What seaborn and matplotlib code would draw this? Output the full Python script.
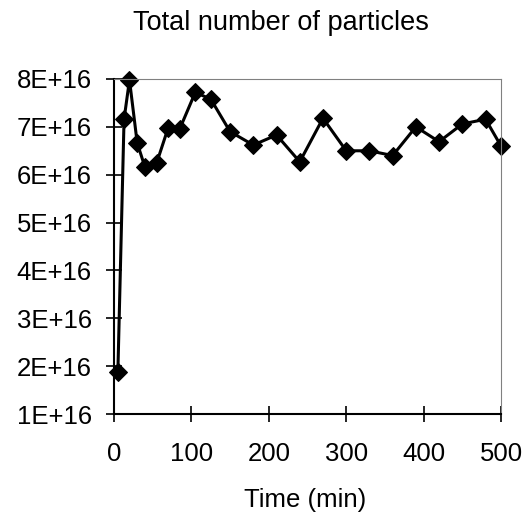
import seaborn as sns
import pandas as pd
import numpy as np
import matplotlib.pyplot as plt

# values
time_min = [5, 13, 20, 30, 40, 55, 70, 85, 105, 125, 150, 180, 210, 240,
            270, 300, 330, 360, 390, 420, 450, 480, 500]
particles = [1.88e16, 7.16e16, 7.98e16, 6.66e16, 6.16e16, 6.24e16, 6.98e16,
             6.96e16, 7.72e16, 7.58e16, 6.90e16, 6.62e16, 6.83e16, 6.27e16,
             7.18e16, 6.50e16, 6.50e16, 6.40e16, 7.00e16, 6.69e16, 7.06e16,
             7.16e16, 6.60e16]
y_ticks = [1e16, 2e16, 3e16, 4e16, 5e16, 6e16, 7e16, 8e16]
y_tick_labels = ["1E+16", "2E+16", "3E+16", "4E+16", "5E+16", "6E+16", "7E+16", "8E+16"]
x_ticks = [0, 100, 200, 300, 400, 500]

df = pd.DataFrame({"time": time_min, "n": particles})

plt.rcParams['font.family'] = ['Liberation Sans', 'DejaVu Sans']
fig = plt.figure(figsize=(5.31, 5.17), dpi=100)
ax = fig.add_axes([114 / 531, 1 - 414 / 517, (501 - 114) / 531, (414 - 79) / 517])

sns.lineplot(data=df, x="time", y="n", ax=ax, color="black", linewidth=2.2,
             marker="D", markersize=9, markeredgecolor="black", clip_on=False)

ax.set_xlim(0, 500)
ax.set_ylim(1e16, 8e16)
ax.set_xticks(x_ticks)
ax.set_yticks(y_ticks)
ax.set_yticklabels(y_tick_labels)
ax.tick_params(direction='inout', length=12, width=1.2, labelsize=18.5)
ax.tick_params(axis='y', pad=10)
ax.tick_params(axis='x', pad=14)

ax.spines['left'].set_color('black')
ax.spines['bottom'].set_color('black')
ax.spines['left'].set_linewidth(1.5)
ax.spines['bottom'].set_linewidth(1.5)
ax.spines['top'].set_color('#808080')
ax.spines['right'].set_color('#808080')

ax.set_xlabel("")
ax.set_ylabel("")
fig.text(281 / 531, 1 - 30 / 517, "Total number of particles", fontsize=19.5,
         ha='center', va='baseline')
fig.text(305 / 531, 1 - 507 / 517, "Time (min)", fontsize=18.5,
         ha='center', va='baseline')

fig.savefig("out.png", dpi=100)
